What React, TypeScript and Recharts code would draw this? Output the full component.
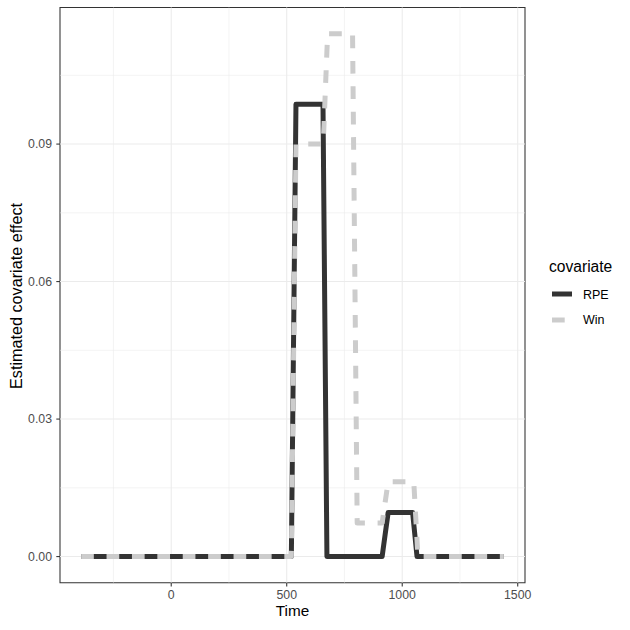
import React from 'react';
import { LineChart, Line, XAxis, YAxis, ReferenceLine, ReferenceArea } from 'recharts';

const rpeTime = [-390, 520, 540, 657, 674, 913, 939, 1045, 1064, 1440];
const rpeValue = [0, 0, 0.0987, 0.0987, 0, 0, 0.0096, 0.0096, 0, 0];
const winTime = [-390, 520, 540, 658, 677, 785, 805, 913, 939, 1050, 1068, 1440];
const winValue = [0, 0, 0.09, 0.09, 0.1141, 0.1141, 0.0073, 0.0073, 0.0163, 0.0163, 0, 0];
const xTicks = [0, 500, 1000, 1500];
const xMinorTicks = [-250, 250, 750, 1250];
const yTicks = [0, 0.03, 0.06, 0.09];
const yMinorTicks = [0.015, 0.045, 0.075, 0.105];
const seriesNames = ['RPE', 'Win'];
const seriesColors = ['#333333', '#CCCCCC'];

const X_DOMAIN: [number, number] = [-481.5, 1531.5];
const Y_DOMAIN: [number, number] = [-0.0057, 0.1198];

const rpeData = rpeTime.map((t, i) => ({ t, v: rpeValue[i] }));
const winData = winTime.map((t, i) => ({ t, v: winValue[i] }));

const FONT = '"Liberation Sans", Arial, Helvetica, sans-serif';
const DASH = '12.7 12.7';
const TICK_FS = 12.3;

export default function App() {
  return (
    <div style={{ position: 'absolute', left: 0, top: 0, width: 630, height: 630, background: '#fff' }}>
      <LineChart width={630} height={630} margin={{ top: 7.5, right: 105, bottom: 0, left: 0 }}>
        <XAxis
          type="number"
          dataKey="t"
          domain={X_DOMAIN}
          ticks={xTicks}
          allowDataOverflow
          height={47.3}
          axisLine={false}
          tickSize={3.7}
          tickMargin={4.3}
          tickLine={{ stroke: '#333333', strokeWidth: 1.07 }}
          tick={{ fill: '#4D4D4D', fontSize: TICK_FS, fontFamily: FONT }}
        />
        <YAxis
          type="number"
          domain={Y_DOMAIN}
          ticks={yTicks}
          allowDataOverflow
          width={60}
          axisLine={false}
          tickSize={3.7}
          tickMargin={4.3}
          tickLine={{ stroke: '#333333', strokeWidth: 1.07 }}
          tickFormatter={(v: number) => v.toFixed(2)}
          tick={{ fill: '#4D4D4D', fontSize: TICK_FS, fontFamily: FONT }}
        />
        {xMinorTicks.map((x) => (
          <ReferenceLine key={'xm' + x} x={x} stroke="#EBEBEB" strokeWidth={0.53} />
        ))}
        {yMinorTicks.map((y) => (
          <ReferenceLine key={'ym' + y} y={y} stroke="#EBEBEB" strokeWidth={0.53} />
        ))}
        {xTicks.map((x) => (
          <ReferenceLine key={'x' + x} x={x} stroke="#EBEBEB" strokeWidth={1.07} />
        ))}
        {yTicks.map((y) => (
          <ReferenceLine key={'y' + y} y={y} stroke="#EBEBEB" strokeWidth={1.07} />
        ))}
        <Line
          data={rpeData}
          dataKey="v"
          name={seriesNames[0]}
          type="linear"
          stroke={seriesColors[0]}
          strokeWidth={5}
          strokeLinejoin="round"
          strokeLinecap="butt"
          dot={false}
          activeDot={false}
          isAnimationActive={false}
        />
        <Line
          data={winData}
          dataKey="v"
          name={seriesNames[1]}
          type="linear"
          stroke={seriesColors[1]}
          strokeWidth={5}
          strokeDasharray={DASH}
          strokeLinejoin="round"
          strokeLinecap="butt"
          dot={false}
          activeDot={false}
          isAnimationActive={false}
        />
        <ReferenceArea
          x1={X_DOMAIN[0]}
          x2={X_DOMAIN[1]}
          y1={Y_DOMAIN[0]}
          y2={Y_DOMAIN[1]}
          fill="none"
          fillOpacity={0}
          stroke="#333333"
          strokeWidth={1.07}
          ifOverflow="visible"
        />
      </LineChart>
      <svg
        width={630}
        height={630}
        style={{ position: 'absolute', left: 0, top: 0, pointerEvents: 'none' }}
      >
        <text x={292.5} y={616} textAnchor="middle" fontFamily={FONT} fontSize={15.3} fill="#000">
          Time
        </text>
        <text
          x={0}
          y={0}
          transform="translate(21.8,296) rotate(-90)"
          textAnchor="middle"
          fontFamily={FONT}
          fontSize={16.2}
          fill="#000"
        >
          Estimated covariate effect
        </text>
        <text x={549} y={272} fontFamily={FONT} fontSize={15.6} fill="#000">
          covariate
        </text>
        <line x1={552} x2={572} y1={294} y2={294} stroke={seriesColors[0]} strokeWidth={5} />
        <text x={583} y={298.8} fontFamily={FONT} fontSize={12.5} fill="#000">
          {seriesNames[0]}
        </text>
        <line x1={552} x2={572} y1={320} y2={320} stroke={seriesColors[1]} strokeWidth={5} strokeDasharray={DASH} />
        <text x={583} y={324.3} fontFamily={FONT} fontSize={12.5} fill="#000">
          {seriesNames[1]}
        </text>
      </svg>
    </div>
  );
}
